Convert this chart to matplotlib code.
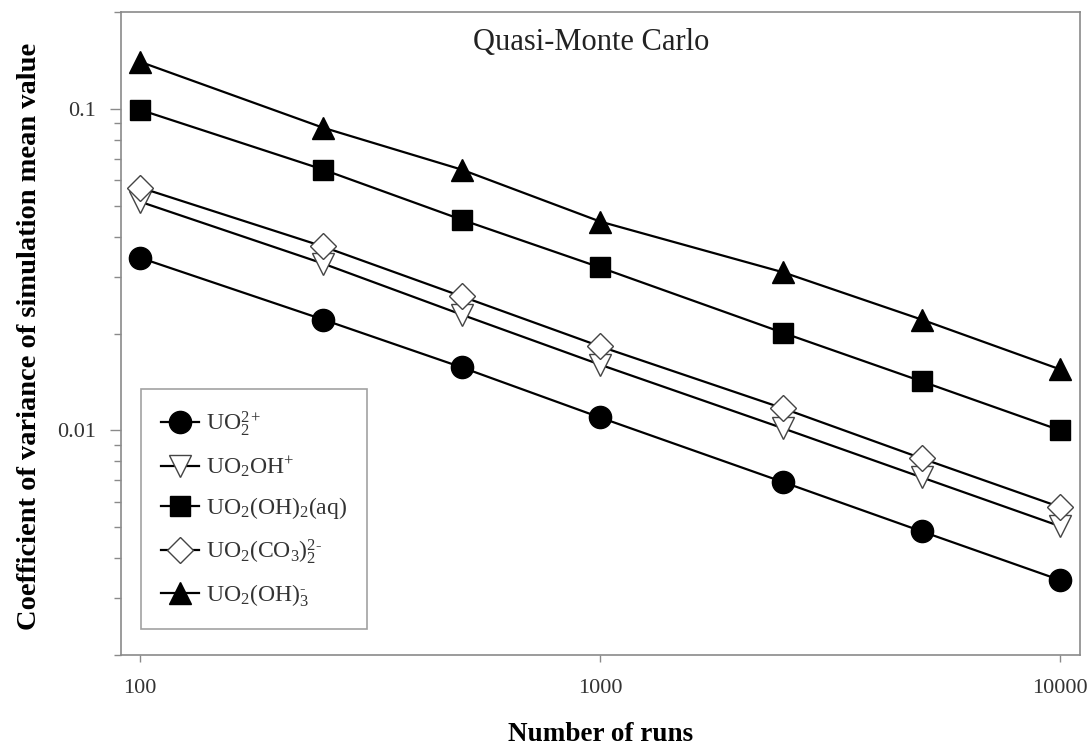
import numpy as np
import matplotlib
matplotlib.use('Agg')
import matplotlib.pyplot as plt
from matplotlib.ticker import FixedLocator, LogLocator, NullFormatter, FixedFormatter

plt.rcParams['font.family'] = ['Liberation Serif', 'DejaVu Serif']
plt.rcParams['mathtext.fontset'] = 'custom'
plt.rcParams['mathtext.rm'] = 'Liberation Serif'
plt.rcParams['mathtext.it'] = 'Liberation Serif:italic'
plt.rcParams['mathtext.bf'] = 'Liberation Serif:bold'

# Number of runs
runs = [100, 250, 500, 1000, 2500, 5000, 10000]

# Coefficient of variance of simulation mean value, per species
uo2 = [0.0344, 0.0221, 0.0157, 0.01096, 0.00690, 0.00485, 0.00342]
uo2oh = [0.0514, 0.0330, 0.0229, 0.0160, 0.01014, 0.00714, 0.00503]
uo2oh2 = [0.0993, 0.0647, 0.0452, 0.0321, 0.0201, 0.0142, 0.0100]
uo2co3 = [0.0569, 0.0373, 0.0261, 0.01824, 0.0117, 0.00818, 0.00577]
uo2oh3 = [0.140, 0.0873, 0.0647, 0.0446, 0.0310, 0.0221, 0.01547]

labels = [r'UO$_2^{2+}$',
          r'UO$_2$OH$^{+}$',
          r'UO$_2$(OH)$_2$(aq)',
          r'UO$_2$(CO$_3$)$_2^{2\text{-}}$',
          r'UO$_2$(OH)$_3^{\text{-}}$']

fig = plt.figure(figsize=(10.91, 7.49), dpi=100)
ax = fig.add_axes([121 / 1091, 1 - 655 / 749, 959 / 1091, 643 / 749])

lw = 1.6
ax.plot(runs, uo2, color='black', lw=lw, marker='o', ms=16,
        mfc='black', mec='black', label=labels[0], zorder=3)
ax.plot(runs, uo2oh, color='black', lw=lw, marker='v', ms=16,
        mfc='white', mec='#444444', mew=1.0, label=labels[1], zorder=3)
ax.plot(runs, uo2oh2, color='black', lw=lw, marker='s', ms=15,
        mfc='black', mec='black', label=labels[2], zorder=3)
ax.plot(runs, uo2co3, color='black', lw=lw, marker='D', ms=13.5,
        mfc='white', mec='#444444', mew=1.0, label=labels[3], zorder=4)
ax.plot(runs, uo2oh3, color='black', lw=lw, marker='^', ms=16,
        mfc='black', mec='black', label=labels[4], zorder=3)

ax.set_xscale('log')
ax.set_yscale('log')
ax.set_xlim(90.9, 11050)
ax.set_ylim(0.002, 0.2)

ax.xaxis.set_major_locator(FixedLocator([100, 1000, 10000]))
ax.xaxis.set_major_formatter(FixedFormatter(['100', '1000', '10000']))
ax.xaxis.set_minor_locator(FixedLocator([]))
ax.yaxis.set_major_locator(FixedLocator([0.01, 0.1]))
ax.yaxis.set_major_formatter(FixedFormatter(['0.01', '0.1']))
ax.yaxis.set_minor_locator(LogLocator(base=10, subs=np.arange(2, 10)))
ax.yaxis.set_minor_formatter(NullFormatter())

spine_col = '#8a8a8a'
for s in ax.spines.values():
    s.set_color(spine_col)
    s.set_linewidth(1.2)

ax.tick_params(axis='both', which='both', direction='out', colors=spine_col,
               labelcolor='#333333', labelsize=16)
ax.tick_params(axis='y', which='major', length=8, width=1.0, pad=10)
ax.tick_params(axis='y', which='minor', length=5, width=1.0)
ax.tick_params(axis='x', which='major', length=5, width=1.0, pad=12)

ax.set_xlabel('Number of runs', fontsize=19.5, fontweight='bold', va='center')
ax.xaxis.set_label_coords(0.5, -0.124)
ax.set_ylabel('Coefficient of variance of simulation mean value',
              fontsize=20.5, fontweight='bold', va='center')
ax.yaxis.set_label_coords(-0.095, 0.495)

ax.text(0.49, 0.952, 'Quasi-Monte Carlo', transform=ax.transAxes,
        ha='center', va='center', fontsize=22, color='#222222')

leg = ax.legend(loc='lower left', bbox_to_anchor=(0.0209, 0.0404),
                borderaxespad=0, fontsize=17, frameon=True, fancybox=False,
                edgecolor=spine_col, handlelength=1.6, handletextpad=0.3,
                labelspacing=0.68, borderpad=0.85)
leg.get_frame().set_linewidth(1.2)
for t in leg.get_texts():
    t.set_color('#333333')

fig.savefig('out.png', dpi=100)
